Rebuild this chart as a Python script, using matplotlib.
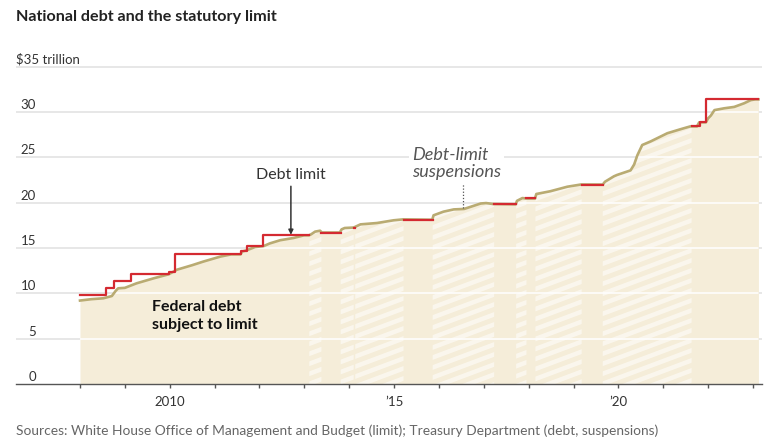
import numpy as np
import matplotlib
matplotlib.use("Agg")
import matplotlib.pyplot as plt
from matplotlib.path import Path
from matplotlib.collections import LineCollection

# ---------------- data ----------------
debt_t = [2008.0, 2008.25, 2008.52, 2008.71, 2008.8, 2008.85, 2009.0, 2009.26, 2009.64,
          2009.98, 2010.05, 2010.16, 2010.5, 2010.75, 2011.13, 2011.37, 2011.58, 2011.61,
          2011.72, 2011.9, 2012.09, 2012.23, 2012.46, 2012.76, 2012.99, 2013.1, 2013.15,
          2013.24, 2013.35, 2013.39, 2013.79, 2013.83, 2013.9, 2014.1, 2014.25, 2014.62,
          2014.99, 2015.2, 2015.85, 2015.88, 2016.1, 2016.33, 2016.56, 2016.93, 2017.05,
          2017.2, 2017.71, 2017.74, 2017.86, 2017.95, 2018.14, 2018.17, 2018.48, 2018.86,
          2019.17, 2019.65, 2019.7, 2019.9, 2019.97, 2020.27, 2020.35, 2020.42, 2020.53,
          2020.72, 2021.09, 2021.39, 2021.6, 2021.75, 2021.8, 2021.95, 2022.0, 2022.06,
          2022.14, 2022.36, 2022.58, 2022.8, 2022.95, 2023.05, 2023.12]
debt_v = [9.2, 9.35, 9.45, 9.7, 10.3, 10.55, 10.6, 11.1, 11.65,
          12.1, 12.3, 12.6, 13.1, 13.5, 14.05, 14.29, 14.29, 14.6,
          14.75, 15.1, 15.2, 15.5, 15.85, 16.1, 16.39, 16.39, 16.5,
          16.8, 16.9, 16.7, 16.7, 17.05, 17.2, 17.25, 17.6, 17.75,
          18.05, 18.15, 18.11, 18.6, 19.0, 19.25, 19.3, 19.9, 19.95,
          19.85, 19.81, 20.2, 20.5, 20.45, 20.45, 20.95, 21.25, 21.75,
          22.0, 21.99, 22.3, 22.9, 23.05, 23.55, 24.2, 25.2, 26.35,
          26.75, 27.65, 28.1, 28.4, 28.4, 28.85, 28.85, 29.3, 29.6,
          30.2, 30.4, 30.55, 30.95, 31.3, 31.38, 31.38]

limit_t = [2008.0, 2008.58, 2008.755, 2009.13, 2009.99, 2010.12, 2011.59, 2011.73, 2012.08,
           2013.11, 2013.38, 2013.81, 2014.10, 2014.135, 2015.21, 2015.86, 2017.23, 2017.72,
           2017.95, 2018.15, 2019.18, 2019.65, 2021.63, 2021.81, 2021.96, 2023.12]
limit_v = [9.815, 10.615, 11.315, 12.104, 12.394, 14.294, 14.694, 15.194, 16.394,
           np.nan, 16.699, np.nan, 17.212, np.nan, 18.113, np.nan, 19.809, np.nan,
           20.456, np.nan, 21.988, np.nan, 28.401, 28.881, 31.381, 31.381]

suspensions = [(2013.11, 2013.38), (2013.81, 2014.10), (2014.135, 2015.21),
               (2015.86, 2017.23), (2017.72, 2017.95), (2018.15, 2019.18),
               (2019.65, 2021.63)]

y_ticks = [0, 5, 10, 15, 20, 25, 30]
x_major = list(range(2008, 2024))
x_labels = {2010: "2010", 2015: "\u201915", 2020: "\u201920"}

# ---------------- style ----------------
FONT = ["Lato", "DejaVu Sans"]
plt.rcParams["font.family"] = FONT
BEIGE = "#f5edd9"
TAN = "#b9ab72"
RED = "#d42a31"
GRID = "#e3e3e3"

W, H = 772, 445
fig = plt.figure(figsize=(W / 100, H / 100), dpi=100)
L, R, B, T = 16, 762, 384, 60
ax = fig.add_axes([L / W, 1 - B / H, (R - L) / W, (B - T) / H])
ppy = 44.87
x0 = 2008 - (80 - L) / ppy
x1 = 2008 + (R - 80) / ppy
ax.set_xlim(x0, x1)
ax.set_ylim(0, (B - T) / 9.07)

for s in ["top", "right", "left"]:
    ax.spines[s].set_visible(False)
ax.spines["bottom"].set_color("#555555")
ax.spines["bottom"].set_linewidth(1.0)
ax.spines["bottom"].set_zorder(6)

# gray gridlines
for v in y_ticks[1:] + [35]:
    ax.axhline(v, color=GRID, lw=1.2, zorder=0)

# fill under debt
dt = np.array(debt_t)
dv = np.array(debt_v)
fill = ax.fill_between(dt, 0, dv, color=BEIGE, lw=0, zorder=1)

# white gridlines inside fill
fill_path = fill.get_paths()[0]
for v in y_ticks[1:]:
    ln = ax.axhline(v, color="white", lw=1.1, zorder=2)
    ln.set_clip_path(fill_path, transform=ax.transData)

# hatch stripes in suspension periods
polys = []
for a, b in suspensions:
    inner = dt[(dt > a) & (dt < b)]
    xs = np.concatenate([[a], inner, [b]])
    ys = np.interp(xs, dt, dv)
    verts = [(a, 0)] + list(zip(xs, ys)) + [(b, 0), (a, 0)]
    codes = [Path.MOVETO] + [Path.LINETO] * (len(verts) - 2) + [Path.CLOSEPOLY]
    polys.append(Path(verts, codes))
susp_path = Path.make_compound_path(*polys)

aw, ah = (R - L), (B - T)
slope_px = 0.375
spacing_px = 10.0
segs = []
c = -aw * slope_px
while c < ah:
    segs.append([(0, c / ah), (1, (c + slope_px * aw) / ah)])
    c += spacing_px
lc = LineCollection(segs, colors="white", linewidths=3.2, alpha=0.55,
                    transform=ax.transAxes, zorder=3)
ax.add_collection(lc)
lc.set_clip_path(susp_path, transform=ax.transData)

# debt line and limit line
ax.plot(dt, dv, color=TAN, lw=1.9, zorder=4, solid_joinstyle="round")
ax.step(limit_t, limit_v, where="post", color=RED, lw=1.6, zorder=5)

# ticks
ax.set_xticks(x_major)
ax.set_xticklabels([x_labels.get(y, "") for y in x_major])
ax.tick_params(axis="x", direction="out", length=3, width=1, color="#555555",
               labelsize=9.5, labelcolor="#333333", pad=6)
ax.set_yticks([])

ytr = ax.get_yaxis_transform()
for v in y_ticks:
    ax.text((36 - L) / aw, v + 0.12, str(v), transform=ytr, ha="right", va="bottom",
            fontsize=9.5, color="#333333", zorder=7)
ax.text(0, 35 + 0.12, "$35 trillion", transform=ytr, ha="left", va="bottom",
        fontsize=9.5, color="#333333", zorder=7)

# annotations
ax.text(2012.7, 23.0, "Debt limit", ha="center", va="center", fontsize=11.5,
        color="#333333", zorder=7)
ax.annotate("", xy=(2012.7, 16.45), xytext=(2012.7, 21.8),
            arrowprops=dict(arrowstyle="-|>", color="#333333", lw=1.1,
                            mutation_scale=7, shrinkA=0, shrinkB=0), zorder=7)
ax.text(2015.4, 24.3, "Debt-limit\nsuspensions", ha="left", va="center",
        fontsize=13, style="italic", color="#555555", linespacing=1.12, zorder=7,
        bbox=dict(facecolor="white", edgecolor="none", pad=2))
ax.plot([2016.53, 2016.53], [19.35, 22.2], color="#555555", lw=0.9, ls=(0, (1, 1.5)),
        zorder=7)
ax.text(2009.6, 7.5, "Federal debt\nsubject to limit", ha="left", va="center",
        fontsize=11.5, fontweight="bold", color="#111111", linespacing=1.38, zorder=7)

# title and source
fig.text(16 / W, 1 - 17 / H, "National debt and the statutory limit", ha="left",
         va="center", fontsize=11.6, fontweight="bold", color="#222222")
fig.text(16 / W, 1 - 431 / H,
         "Sources: White House Office of Management and Budget (limit); Treasury Department (debt, suspensions)",
         ha="left", va="center", fontsize=9.9, color="#666666")

fig.savefig("out.png", dpi=100)
